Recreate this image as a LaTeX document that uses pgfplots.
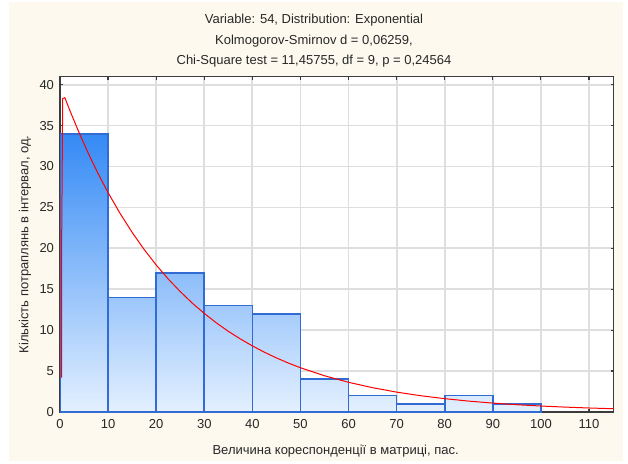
\documentclass[border=0pt]{standalone}
\usepackage{fontspec}
\setmainfont{Liberation Sans}
\usepackage{pgfplots}
\pgfplotsset{compat=1.18}
\definecolor{cream}{RGB}{253,249,238}
\definecolor{barTop}{RGB}{52,138,245}
\definecolor{barBot}{RGB}{228,240,255}
\definecolor{barEdge}{RGB}{48,108,212}
\definecolor{gridc}{RGB}{222,222,222}
\definecolor{axc}{RGB}{60,60,60}
\definecolor{txt}{RGB}{40,40,40}
\begin{document}
\fontsize{13}{15}\selectfont
\begin{tikzpicture}[x=1pt,y=1pt]
\fill[white] (0,0) rectangle (628,463);
\fill[cream] (9,2) rectangle (623,461);
\begin{axis}[
  at={(60pt,51pt)}, anchor=south west,
  scale only axis, width=553.5pt, height=335.5pt,
  xmin=0, xmax=115.1, ymin=0, ymax=41,
  xtick={0,10,...,110}, ytick={0,5,...,40},
  tick align=inside, tick pos=both,
  major tick length=3pt,
  tick style={axc, line width=1.2pt},
  axis line style={axc, line width=1.6pt},
  grid=major,
  grid style={gridc, line width=1.8pt},
  axis background/.style={fill=white},
  ticklabel style={font=\fontsize{13}{15}\selectfont, text=txt},
  /pgf/number format/assume math mode=true,
  xticklabel style={yshift=-3pt},
  yticklabel style={xshift=-1.5pt},
  xlabel={Величина кореспонденції в матриці, пас.},
  ylabel={Кількість потраплянь в інтервал, од.},
  every axis x label/.style={at={(axis description cs:0.498,-0.128)}, anchor=base, font=\fontsize{13}{15}\selectfont, text=txt},
  every axis y label/.style={at={(axis description cs:-0.063,0.5)}, anchor=center, rotate=90, font=\fontsize{13}{15}\selectfont, text=txt},
]
% histogram bars (bin start, count)
\addplot[ybar interval, draw=barEdge, line width=1.6pt, top color=barTop, bottom color=barBot] coordinates {(0,34) (10,34)};
\addplot[ybar interval, draw=barEdge, line width=1.6pt, top color=barTop!41!barBot, bottom color=barBot] coordinates {(10,14) (20,14)};
\addplot[ybar interval, draw=barEdge, line width=1.6pt, top color=barTop!50!barBot, bottom color=barBot] coordinates {(20,17) (30,17)};
\addplot[ybar interval, draw=barEdge, line width=1.6pt, top color=barTop!38!barBot, bottom color=barBot] coordinates {(30,13) (40,13)};
\addplot[ybar interval, draw=barEdge, line width=1.6pt, top color=barTop!35!barBot, bottom color=barBot] coordinates {(40,12) (50,12)};
\addplot[ybar interval, draw=barEdge, line width=1.6pt, top color=barTop!12!barBot, bottom color=barBot] coordinates {(50,4) (60,4)};
\addplot[ybar interval, draw=barEdge, line width=1.6pt, top color=barTop!6!barBot, bottom color=barBot] coordinates {(60,2) (70,2)};
\addplot[ybar interval, draw=barEdge, line width=1.6pt, top color=barTop!3!barBot, bottom color=barBot] coordinates {(70,1) (80,1)};
\addplot[ybar interval, draw=barEdge, line width=1.6pt, top color=barTop!6!barBot, bottom color=barBot] coordinates {(80,2) (90,2)};
\addplot[ybar interval, draw=barEdge, line width=1.6pt, top color=barTop!3!barBot, bottom color=barBot] coordinates {(90,1) (100,1)};
% fitted exponential curve
\addplot[red, line width=1pt, no marks] coordinates {
(0.35,4.2) (0.35,21.2) (0.56,38.3) (1,38.43) (2,36.92) (4,34.09) (6,31.47) (8,29.05)
(10,26.81) (12.5,24.26) (15,21.95) (17.5,19.86) (20,17.97) (22.5,16.26) (25,14.72)
(27.5,13.31) (30,12.05) (32.5,10.90) (35,9.86) (37.5,8.93) (40,8.08) (42.5,7.31)
(45,6.61) (47.5,5.98) (50,5.41) (55,4.43) (60,3.63) (65,2.97) (70,2.43) (75,1.99)
(80,1.63) (85,1.33) (90,1.09) (95,0.89) (100,0.73) (105,0.60) (110,0.49) (115.1,0.40)};
\end{axis}
\node[anchor=base, text=txt] at (314,439) {Variable: 54, Distribution: Exponential};
\node[anchor=base, text=txt] at (314,418.5) {Kolmogorov-Smirnov d = 0,06259,};
\node[anchor=base, text=txt] at (314,398) {Chi-Square test = 11,45755, df = 9, p = 0,24564};
\end{tikzpicture}
\end{document}
